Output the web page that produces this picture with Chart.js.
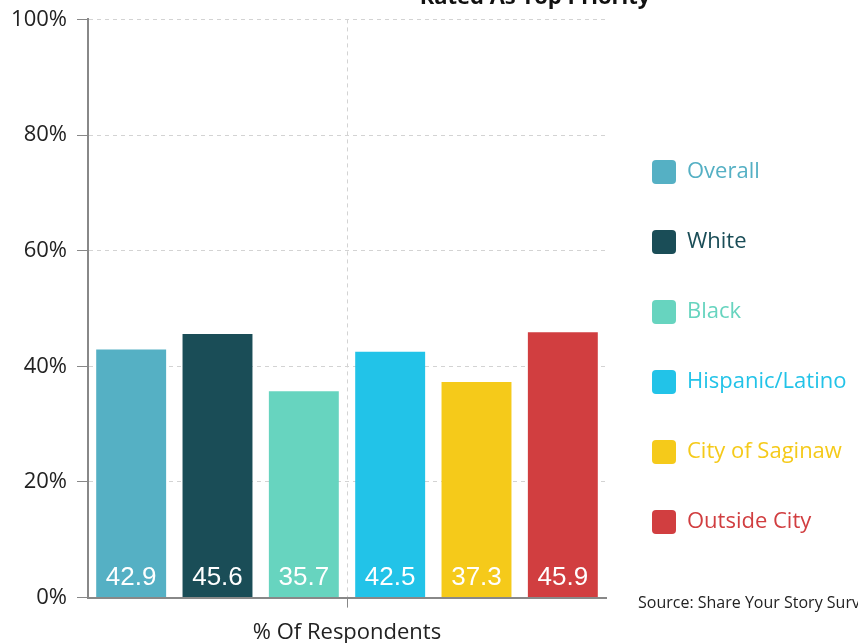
<!DOCTYPE html>
<html>
<head>
<meta charset="utf-8">
<script src="https://cdn.jsdelivr.net/npm/chart.js@4.4.1/dist/chart.umd.min.js"></script>
<style>
  html, body { margin: 0; padding: 0; background: #fff; overflow: hidden; width: 858px; height: 643px; }
  #wrap { position: absolute; left: 0; top: -24px; width: 1070px; height: 682px; }
</style>
</head>
<body>
<div id="wrap"><canvas id="barChart"></canvas></div>
<script>
const categories = ['% Of Respondents'];
const groups = ['Overall', 'White', 'Black', 'Hispanic/Latino', 'City of Saginaw', 'Outside City'];
const values = [42.9, 45.6, 35.7, 42.5, 37.3, 45.9];
const colors = ['#55b0c4', '#1a4d57', '#67d4bf', '#22c3e8', '#f5ca1a', '#d13e40'];
const yTicks = [0, 20, 40, 60, 80, 100];
const sourceText = 'Source: Share Your Story Survey';

const uiFont = '"Open Sans"';

// white value labels at the foot of each bar
const barValues = {
    id: 'barValues',
    afterDatasetsDraw(chart) {
        const ctx = chart.ctx;
        ctx.save();
        ctx.fillStyle = '#ffffff';
        ctx.font = '26px "Liberation Sans"';
        ctx.textAlign = 'center';
        ctx.textBaseline = 'alphabetic';
        chart.data.datasets.forEach((ds, i) => {
            const bar = chart.getDatasetMeta(i).data[0];
            ctx.fillText(ds.data[0].toFixed(1), bar.x, bar.base - 12);
        });
        ctx.restore();
    }
};

const sourceNote = {
    id: 'sourceNote',
    afterDraw(chart) {
        const ctx = chart.ctx;
        const area = chart.chartArea;
        ctx.save();
        ctx.fillStyle = '#222';
        ctx.font = '16px ' + uiFont;
        ctx.textAlign = 'left';
        ctx.textBaseline = 'alphabetic';
        ctx.fillText(sourceText, area.right + 32, area.bottom + 10);
        ctx.restore();
    }
};

new Chart(document.getElementById('barChart'), {
    type: 'bar',
    data: {
        labels: categories,
        datasets: groups.map((g, i) => ({
            label: g,
            data: [values[i]],
            backgroundColor: colors[i],
            borderWidth: 0,
            categoryPercentage: 1.0,
            barPercentage: 0.81
        }))
    },
    options: {
        responsive: true,
        maintainAspectRatio: false,
        animation: false,
        layout: { padding: 0 },
        plugins: {
            tooltip: { enabled: false },
            title: {
                display: true,
                text: 'Rated As Top Priority',
                color: '#111',
                font: { family: uiFont, size: 22, weight: 'bold' },
                padding: { top: 9, bottom: 8 }
            },
            legend: {
                position: 'right',
                maxWidth: 240,
                title: { display: true, text: '', font: { size: 10 }, padding: { top: 24, bottom: 24 } },
                labels: {
                    boxWidth: 24,
                    boxHeight: 24,
                    padding: 46,
                    useBorderRadius: true,
                    borderRadius: 4,
                    font: { family: uiFont, size: 22 },
                    generateLabels(chart) {
                        return chart.data.datasets.map((ds, i) => ({
                            text: ds.label,
                            fillStyle: ds.backgroundColor,
                            strokeStyle: ds.backgroundColor,
                            fontColor: ds.backgroundColor,
                            lineWidth: 0,
                            hidden: false,
                            datasetIndex: i,
                            borderRadius: 4
                        }));
                    }
                }
            }
        },
        scales: {
            x: {
                grid: {
                    offset: false,
                    color: '#d3d3d3',
                    tickColor: '#888',
                    tickLength: 10,
                    tickBorderDash: []
                },
                border: { color: '#888', width: 2, dash: [4, 4] },
                ticks: { color: '#222', padding: 12, font: { family: uiFont, size: 22 } }
            },
            y: {
                min: 0,
                max: 100,
                afterBuildTicks(scale) {
                    scale.ticks = yTicks.map(v => ({ value: v }));
                },
                afterFit(scale) { scale.width = 88; },
                grid: {
                    color: '#d3d3d3',
                    tickColor: '#888',
                    tickLength: 11,
                    tickBorderDash: []
                },
                border: { color: '#888', width: 2, dash: [4, 4] },
                ticks: {
                    color: '#222',
                    padding: 10,
                    font: { family: uiFont, size: 22 },
                    callback: v => v + '%'
                }
            },
            // blank spacer on the far right, keeps the plot the same width as the original
            spacer: {
                type: 'linear',
                position: 'right',
                weight: 2000,
                grid: { display: false, drawOnChartArea: false, drawTicks: false },
                border: { display: false },
                ticks: { display: false },
                afterFit(scale) { scale.width = 224; }
            }
        }
    },
    plugins: [barValues, sourceNote]
});
</script>
</body>
</html>
